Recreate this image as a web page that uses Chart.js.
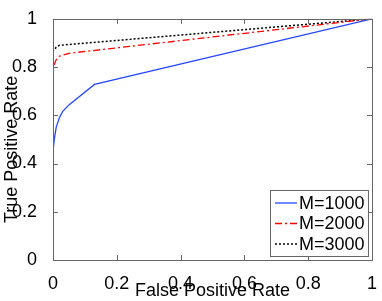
<!DOCTYPE html>
<html>
<head>
<meta charset="utf-8">
<script src="https://cdn.jsdelivr.net/npm/chart.js@4"></script>
<style>
  html, body { margin: 0; padding: 0; background: #fff; }
  #wrap { width: 382px; height: 301px; }
</style>
</head>
<body>
<div id="wrap"><canvas id="rocChart" width="382" height="301"></canvas></div>
<script>
// ROC curves
const seriesLabels = ['M=1000', 'M=2000', 'M=3000'];

const fpr1000 = [0, 0, 0.004, 0.01, 0.02, 0.03, 0.05, 0.13, 1];
const tpr1000 = [0, 0.45, 0.50, 0.55, 0.59, 0.615, 0.643, 0.728, 1];

const fpr2000 = [0, 0, 0.005, 0.01, 0.02, 0.05, 1];
const tpr2000 = [0, 0.795, 0.815, 0.83, 0.845, 0.857, 1];

const fpr3000 = [0, 0, 0.01, 0.02, 1];
const tpr3000 = [0, 0.865, 0.882, 0.89, 1];

const xTickValues = [0, 0.2, 0.4, 0.6, 0.8, 1];
const yTickValues = [0, 0.2, 0.4, 0.6, 0.8, 1];

const FONT = 'Liberation Sans, Arial, Helvetica, sans-serif';

function toPoints(xs, ys) {
    return xs.map((x, i) => ({ x: x, y: ys[i] }));
}

/**
 * Box around the plot with inward tick marks (matlab style)
 */
const boxPlugin = {
    id: 'boxPlugin',
    afterDatasetsDraw(chart) {
        const { ctx, chartArea: a, scales } = chart;
        const len = 5;
        ctx.save();
        ctx.strokeStyle = '#666';
        ctx.lineWidth = 1;
        ctx.beginPath();
        xTickValues.forEach(v => {
            const px = Math.round(scales.x.getPixelForValue(v)) + 0.5;
            ctx.moveTo(px, a.bottom); ctx.lineTo(px, a.bottom - len);
            ctx.moveTo(px, a.top); ctx.lineTo(px, a.top + len);
        });
        yTickValues.forEach(v => {
            const py = Math.round(scales.y.getPixelForValue(v)) + 0.5;
            ctx.moveTo(a.left, py); ctx.lineTo(a.left + len, py);
            ctx.moveTo(a.right, py); ctx.lineTo(a.right - len, py);
        });
        ctx.stroke();
        ctx.strokeRect(Math.round(a.left) + 0.5, Math.round(a.top) + 0.5,
            Math.round(a.right - a.left), Math.round(a.bottom - a.top));
        ctx.restore();
    }
};

/**
 * Legend box in the lower right corner of the plot
 */
const legendPlugin = {
    id: 'legendBox',
    afterDraw(chart) {
        const ctx = chart.ctx;
        const a = chart.chartArea;
        const w = 98, h = 66;
        const x0 = a.right - 4 - w;
        const y0 = a.bottom - 4 - h;
        ctx.save();
        ctx.fillStyle = '#fff';
        ctx.fillRect(x0, y0, w, h);
        ctx.strokeStyle = '#666';
        ctx.lineWidth = 1;
        ctx.strokeRect(x0 + 0.5, y0 + 0.5, w, h);
        ctx.font = '18px ' + FONT;
        ctx.textBaseline = 'middle';
        ctx.fillStyle = '#000';
        chart.data.datasets.forEach((ds, i) => {
            const cy = y0 + 13 + i * 20.5;
            ctx.beginPath();
            ctx.strokeStyle = ds.borderColor;
            ctx.lineWidth = ds.borderWidth;
            ctx.setLineDash(ds.borderDash || []);
            ctx.moveTo(x0 + 5, cy);
            ctx.lineTo(x0 + 27, cy);
            ctx.stroke();
            ctx.setLineDash([]);
            ctx.fillText(ds.label, x0 + 29, cy + 1);
        });
        ctx.restore();
    }
};

document.addEventListener('DOMContentLoaded', function() {
    const ctx = document.getElementById('rocChart').getContext('2d');

    new Chart(ctx, {
        type: 'scatter',
        data: {
            datasets: [{
                label: seriesLabels[0],
                data: toPoints(fpr1000, tpr1000),
                borderColor: '#2846ff',
                borderWidth: 1.3
            }, {
                label: seriesLabels[1],
                data: toPoints(fpr2000, tpr2000),
                borderColor: '#ff0000',
                borderWidth: 1.3,
                borderDash: [7, 3, 2, 3]
            }, {
                label: seriesLabels[2],
                data: toPoints(fpr3000, tpr3000),
                borderColor: '#000000',
                borderWidth: 1.5,
                borderDash: [2, 2]
            }]
        },
        options: {
            responsive: false,
            animation: false,
            showLine: true,
            elements: { point: { radius: 0 }, line: { tension: 0 } },
            layout: { padding: { left: 0, top: 12, right: 8, bottom: 0 } },
            plugins: {
                legend: { display: false },
                tooltip: { enabled: false }
            },
            scales: {
                x: {
                    type: 'linear',
                    min: 0,
                    max: 1,
                    afterBuildTicks: s => { s.ticks = xTickValues.map(v => ({ value: v })); },
                    afterFit: s => { s.height = 41; },
                    grid: { display: false },
                    border: { display: false },
                    ticks: {
                        color: '#000',
                        padding: 5,
                        maxRotation: 0,
                        callback: v => String(v),
                        font: { family: FONT, size: 18 }
                    },
                    title: {
                        display: true,
                        text: 'False Positive Rate',
                        color: '#000',
                        padding: { top: 0, bottom: 1 },
                        font: { family: FONT, size: 18, lineHeight: 1 }
                    }
                },
                y: {
                    type: 'linear',
                    min: 0,
                    max: 1,
                    afterBuildTicks: s => { s.ticks = yTickValues.map(v => ({ value: v })); },
                    afterFit: s => { s.width = 53; },
                    grid: { display: false },
                    border: { display: false },
                    ticks: {
                        color: '#000',
                        padding: 8,
                        callback: v => String(v),
                        font: { family: FONT, size: 18 }
                    },
                    title: {
                        display: true,
                        text: 'True Positive Rate\u00a0\u00a0\u00a0\u00a0',
                        color: '#000',
                        padding: { top: 3, bottom: 0 },
                        font: { family: FONT, size: 18, lineHeight: 1 }
                    }
                }
            }
        },
        plugins: [boxPlugin, legendPlugin]
    });
});
</script>
</body>
</html>
